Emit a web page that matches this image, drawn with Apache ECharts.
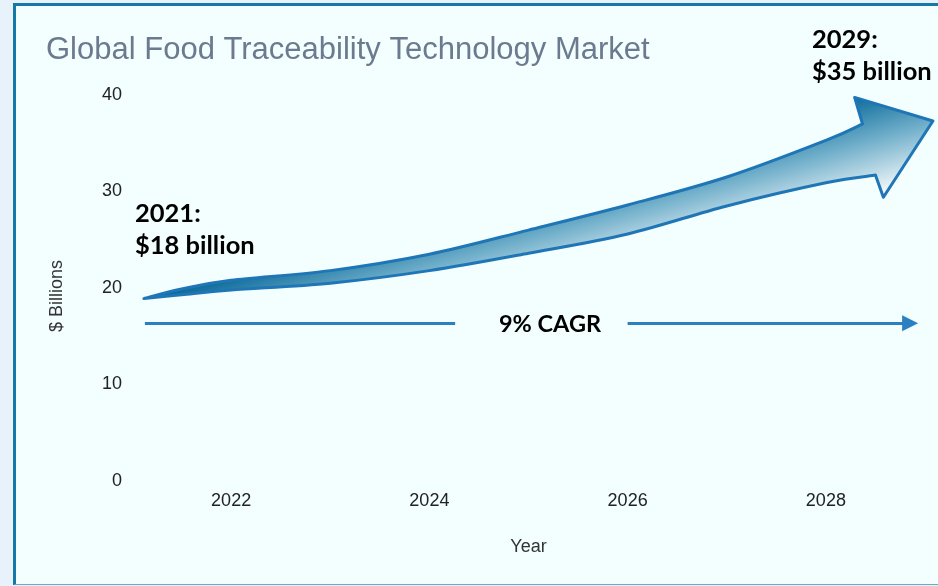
<!DOCTYPE html>
<html><head><meta charset="utf-8">
<script src="https://cdn.jsdelivr.net/npm/echarts@6/dist/echarts.min.js"></script>
<style>
html,body{margin:0;padding:0;width:938px;height:586px;overflow:hidden;background:#e8f2fb;}
#frame{position:absolute;left:13px;top:3px;width:940px;height:578px;background:#f3feff;border-left:3px solid #1479a6;border-top:3px solid #1479a6;border-bottom:1px solid #6fa9c2;}
#chart{position:absolute;left:0;top:0;width:938px;height:586px;}
</style></head><body>
<div id="frame"></div><div id="chart"></div>
<script>
// ---- data ----
const xTickLabels = [2022, 2024, 2026, 2028];
const yTickLabels = [0, 10, 20, 30, 40];
// upper and lower edges of the growth arrow body ($ billions by year)
const upperYears = [2021.12, 2021.5, 2022, 2023, 2024, 2025, 2026, 2027, 2028, 2028.37];
const upperVals  = [18.9, 19.9, 20.8, 21.8, 23.5, 26.0, 28.6, 31.5, 35.3, 37.0];
const lowerYears = [2021.12, 2021.5, 2022, 2023, 2024, 2025, 2026, 2027, 2028, 2028.5];
const lowerVals  = [18.9, 19.3, 19.8, 20.5, 21.8, 23.6, 25.6, 28.5, 30.9, 31.7];
// arrow head: barb top, tip, barb bottom
const headYears = [2028.29, 2029.08, 2028.58];
const headVals  = [39.75, 37.3, 29.4];
// CAGR guide line
const cagrLevel = 16.35;
const cagrLeft  = [2021.13, 2024.26];
const cagrRight = [2026.0, 2028.85];

const chart = echarts.init(document.getElementById('chart'));

function smoothPath(pts, moveFirst) {
  let d = (moveFirst ? 'M' : 'L') + pts[0][0] + ' ' + pts[0][1];
  for (let i = 0; i < pts.length - 1; i++) {
    const p0 = pts[Math.max(i - 1, 0)], p1 = pts[i], p2 = pts[i + 1], p3 = pts[Math.min(i + 2, pts.length - 1)];
    const c1 = [p1[0] + (p2[0] - p0[0]) / 6, p1[1] + (p2[1] - p0[1]) / 6];
    const c2 = [p2[0] - (p3[0] - p1[0]) / 6, p2[1] - (p3[1] - p1[1]) / 6];
    d += ' C' + c1[0] + ' ' + c1[1] + ' ' + c2[0] + ' ' + c2[1] + ' ' + p2[0] + ' ' + p2[1];
  }
  return d;
}

function renderArrow(params, api) {
  const up = upperYears.map((y, i) => api.coord([y, upperVals[i]]));
  const lo = lowerYears.map((y, i) => api.coord([y, lowerVals[i]])).reverse();
  const head = headYears.map((y, i) => api.coord([y, headVals[i]]));
  let d = smoothPath(up, true);
  head.forEach(p => { d += ' L' + p[0] + ' ' + p[1]; });
  d += ' ' + smoothPath(lo, false) + ' Z';
  const bt = head[0], bb = head[2];
  const grad = new echarts.graphic.LinearGradient(bt[0], bt[1], bb[0], bb[1], [
    { offset: 0, color: '#0e6c9c' },
    { offset: 0.45, color: '#72b0cb' },
    { offset: 1, color: '#ffffff' }
  ], true);
  return {
    type: 'path',
    shape: { pathData: d },
    style: { fill: grad, stroke: '#1e76b6', lineWidth: 3, lineJoin: 'round' }
  };
}

const lblFont = 'Lato, "Noto Sans", sans-serif';
const axFont = '"Liberation Sans", Arial, sans-serif';

chart.setOption({
  animation: false,
  backgroundColor: 'transparent',
  title: {
    text: 'Global Food Traceability Technology Market',
    left: 41, top: 30,
    textStyle: { fontFamily: axFont, fontSize: 31, fontWeight: 'normal', color: '#6b7a8e' }
  },
  grid: { left: 132, right: 13, top: 95, bottom: 105 },
  xAxis: {
    type: 'value', min: 2021, max: 2029, interval: 1,
    name: 'Year', nameLocation: 'middle', nameGap: 57,
    nameTextStyle: { fontFamily: axFont, fontSize: 18, color: '#333' },
    axisLine: { show: false }, axisTick: { show: false }, splitLine: { show: false },
    axisLabel: {
      margin: 11, fontFamily: axFont, fontSize: 18, color: '#222',
      formatter: v => xTickLabels.includes(v) ? String(v) : ''
    }
  },
  yAxis: {
    type: 'value', min: 0, max: 40, interval: 10,
    name: '$ Billions', nameLocation: 'middle', nameGap: 66,
    nameTextStyle: { fontFamily: axFont, fontSize: 18, color: '#333', padding: [0, 16, 0, 0] },
    axisLine: { show: false }, axisTick: { show: false }, splitLine: { show: false },
    axisLabel: {
      margin: 10, fontFamily: axFont, fontSize: 18, color: '#222',
      formatter: v => yTickLabels.includes(v) ? String(v) : ''
    }
  },
  series: [
    {
      type: 'custom', clip: false, silent: true,
      renderItem: renderArrow,
      data: [[2025, 25]]
    },
    {
      type: 'line', data: [], silent: true,
      markLine: {
        silent: true, animation: false,
        lineStyle: { color: '#2a80c1', width: 3, type: 'solid' },
        label: { show: false },
        symbol: ['none', 'none'],
        data: [
          [{ coord: [cagrLeft[0], cagrLevel], symbol: 'none' }, { coord: [cagrLeft[1], cagrLevel], symbol: 'none' }],
          [{ coord: [cagrRight[0], cagrLevel], symbol: 'none' }, { coord: [cagrRight[1], cagrLevel], symbol: 'triangle', symbolSize: [16, 16] }]
        ]
      }
    }
  ],
  graphic: [
    { type: 'text', x: 135, y: 198, style: { text: '2021:\n$18 billion', font: 'bold 25.5px ' + lblFont, fill: '#000', lineHeight: 32, align: 'left', verticalAlign: 'top' } },
    { type: 'text', x: 812, y: 24, style: { text: '2029:\n$35 billion', font: 'bold 25.5px ' + lblFont, fill: '#000', lineHeight: 32, align: 'left', verticalAlign: 'top' } },
    { type: 'text', x: 550, y: 324, style: { text: '9% CAGR', font: 'bold 23.5px ' + lblFont, fill: '#000', align: 'center', verticalAlign: 'middle' } }
  ]
});
</script>
</body></html>
